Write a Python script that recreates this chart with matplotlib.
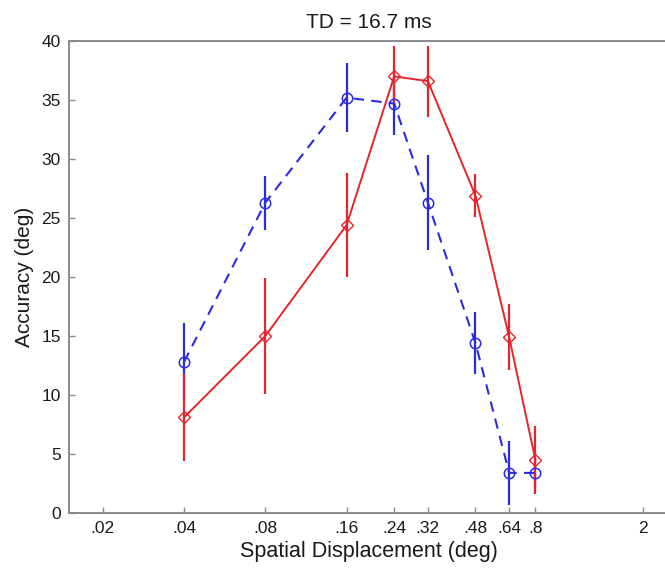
import numpy as np
import matplotlib
matplotlib.use("Agg")
import matplotlib.pyplot as plt

plt.rcParams['font.family'] = ['Liberation Sans', 'DejaVu Sans']

# spatial displacement (deg)
displacement = [0.04, 0.08, 0.16, 0.24, 0.32, 0.48, 0.64, 0.8]

# blue dashed series (circles)
blue_acc = [12.8, 26.3, 35.2, 34.7, 26.3, 14.4, 3.4, 3.4]
blue_err = [3.3, 2.3, 2.9, 2.7, 4.0, 2.6, 2.7, 1.3]

# red solid series (diamonds)
red_acc = [8.1, 15.0, 24.4, 37.0, 36.6, 26.9, 14.9, 4.5]
red_err = [3.7, 4.9, 4.4, 2.6, 3.0, 1.8, 2.8, 2.9]

xticks = [0.02, 0.04, 0.08, 0.16, 0.24, 0.32, 0.48, 0.64, 0.8, 2]
xtick_labels = ['.02', '.04', '.08', '.16', '.24', '.32', '.48', '.64', '.8', '2']
yticks = [0, 5, 10, 15, 20, 25, 30, 35, 40]

blue = '#2a2ae0'
red = '#e5252b'
axis_gray = '#8a8a8a'

fig = plt.figure(figsize=(6.65, 5.7), dpi=100)
ax = fig.add_axes([69 / 665, 57 / 570, 600 / 665, 472 / 570])

ax.errorbar(displacement, blue_acc, yerr=blue_err, color=blue, ecolor=blue,
            linestyle=(0, (5, 3.5)), linewidth=1.5, elinewidth=1.6, capsize=0,
            marker='o', markersize=7.5, markerfacecolor='none',
            markeredgecolor=blue, markeredgewidth=1.1)
ax.errorbar(displacement, red_acc, yerr=red_err, color=red, ecolor=red,
            linestyle='-', linewidth=1.4, elinewidth=1.6, capsize=0,
            marker='D', markersize=6, markerfacecolor='none',
            markeredgecolor=red, markeredgewidth=1.0)

ax.set_xscale('log')
ax.set_xlim(0.015, 2.5)
ax.set_ylim(0, 40)
ax.set_xticks(xticks)
ax.set_xticklabels(xtick_labels)
ax.minorticks_off()
ax.set_yticks(yticks)

ax.tick_params(direction='in', length=4, width=1, color=axis_gray,
               labelsize=12.5, labelcolor='#1a1a1a', pad=6)
for side in ['left', 'bottom', 'top']:
    ax.spines[side].set_color(axis_gray)
    ax.spines[side].set_linewidth(1.4)
ax.spines['right'].set_visible(False)

ax.set_title('TD = 16.7 ms', fontsize=15, color='#1a1a1a', pad=9)
ax.set_xlabel('Spatial Displacement (deg)', fontsize=15.5, color='#1a1a1a', labelpad=3)
ax.set_ylabel('Accuracy (deg)', fontsize=15, color='#1a1a1a', labelpad=5)

fig.savefig('out.png', dpi=100)
